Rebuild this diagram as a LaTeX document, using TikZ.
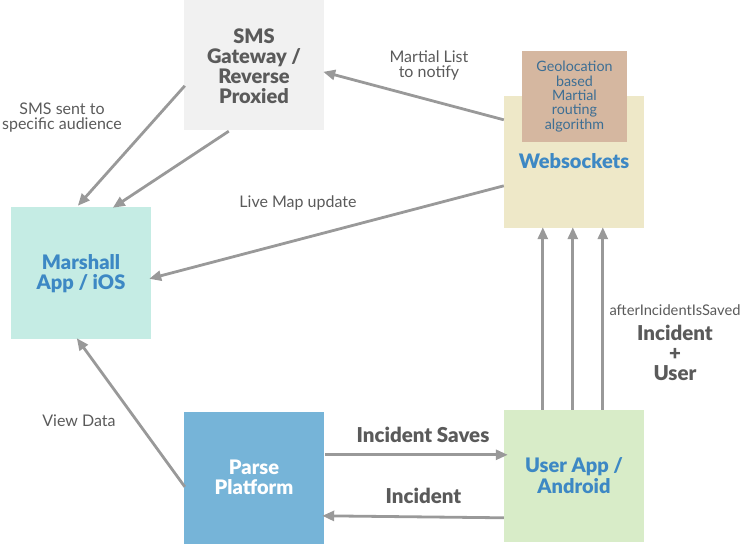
\documentclass[tikz,border=0pt]{standalone}
\usepackage{fontspec}
\setmainfont{Lato}[BoldFont={Lato Black}]
\usetikzlibrary{arrows.meta,calc}
\definecolor{smsfill}{HTML}{F1F1F1}
\definecolor{wsfill}{HTML}{EEE8C8}
\definecolor{geofill}{HTML}{D5B7A0}
\definecolor{marfill}{HTML}{C5ECE4}
\definecolor{parsefill}{HTML}{76B4D8}
\definecolor{userfill}{HTML}{D8ECC8}
\definecolor{bluetxt}{HTML}{3D88C4}
\definecolor{geotxt}{HTML}{3C6E94}
\definecolor{greytxt}{HTML}{5A5A5A}
\definecolor{arrowc}{HTML}{999999}
\tikzset{
  box/.style={rectangle, inner sep=0pt, minimum width=140pt, minimum height=132pt},
  title/.style={font=\fontsize{20}{20.5}\selectfont\bfseries, align=center, inner sep=0pt},
  lab/.style={font=\fontsize{16}{15.5}\selectfont, text=greytxt, align=center, inner sep=0pt},
  blab/.style={font=\fontsize{20.5}{20}\selectfont\bfseries, text=greytxt, align=center, inner sep=0pt},
  conn/.style={draw=arrowc, line width=2.8pt, -{Triangle[length=12pt,width=10pt]}},
}
\begin{document}
\begin{tikzpicture}[x=1pt,y=-1pt]
\useasboundingbox (0,0) rectangle (740,544);
% boxes
\node[box, fill=smsfill] (sms) at (254,64) {};
\node[title, text=greytxt, font=\fontsize{20}{20}\selectfont\bfseries] (smst) at (254,66) {SMS\\Gateway /\\Reverse\\Proxied};
\node[box, fill=wsfill] (ws) at (574,162) {};
\node[rectangle, inner sep=0pt, minimum width=105pt, minimum height=91pt, fill=geofill] (geo) at (574.5,96.5) {};
\node[font=\fontsize{14.3}{14.3}\selectfont, text=geotxt, align=center, inner sep=0pt] (geot) at (574.5,96.5) {Geolocation\\based\\Martial\\routing\\algorithm};
\node[title, text=bluetxt] (wst) at (574,161) {Websockets};
\node[box, fill=marfill] (mar) at (81,273) {};
\node[title, text=bluetxt, font=\fontsize{20}{19.5}\selectfont\bfseries] (mart) at (81,273.5) {Marshall\\App / iOS};
\node[box, fill=parsefill] (parse) at (254,478) {};
\node[title, text=white] (parset) at (254,477.5) {Parse\\Platform};
\node[box, fill=userfill] (user) at (574,476) {};
\node[title, text=bluetxt] (usert) at (574,475.5) {User App /\\Android};
% labels
\node[lab] (l1) at (62,117.5) {SMS sent to\\specific audience};
\node[lab] (l2) at (429,65.5) {Martial List\\to notify};
\node[lab] (l3) at (298,203) {Live Map update};
\node[lab] (l4) at (79,421) {View Data};
\node[blab] (l5) at (423,435) {Incident Saves};
\node[blab] (l6) at (423.5,496) {Incident};
\node[font=\fontsize{14.7}{14}\selectfont, text=greytxt, inner sep=0pt] (l7) at (675,310) {afterIncidentIsSaved};
\node[blab] (l8) at (675,353) {Incident\\+\\User};
% connectors
\draw[conn] ($(ws.north west)+(0,24)$) -- ($(sms.north east)+(-1,74)$);
\draw[conn] ($(sms.north west)+(1,88)$) -- ($(mar.north west)+(67,-1)$);
\draw[conn] ($(sms.south west)+(45,1)$) -- ($(mar.north west)+(102,1)$);
\draw[conn] ($(ws.north west)+(0,90)$) -- ($(mar.north east)+(-2,72)$);
\draw[conn] ($(parse.north west)+(1,75)$) -- ($(mar.south west)+(66,-1)$);
\draw[conn] ($(parse.north east)+(1,43)$) -- ($(user.north west)+(4,45)$);
\draw[conn] ($(user.north west)+(0,108)$) -- ($(parse.north east)+(-2,104)$);
\draw[conn] ($(user.north west)+(39,0)$) -- ($(ws.south west)+(39,-1)$);
\draw[conn] ($(user.north west)+(69,0)$) -- ($(ws.south west)+(69,-1)$);
\draw[conn] ($(user.north west)+(99,0)$) -- ($(ws.south west)+(99,-1)$);
\end{tikzpicture}
\end{document}
